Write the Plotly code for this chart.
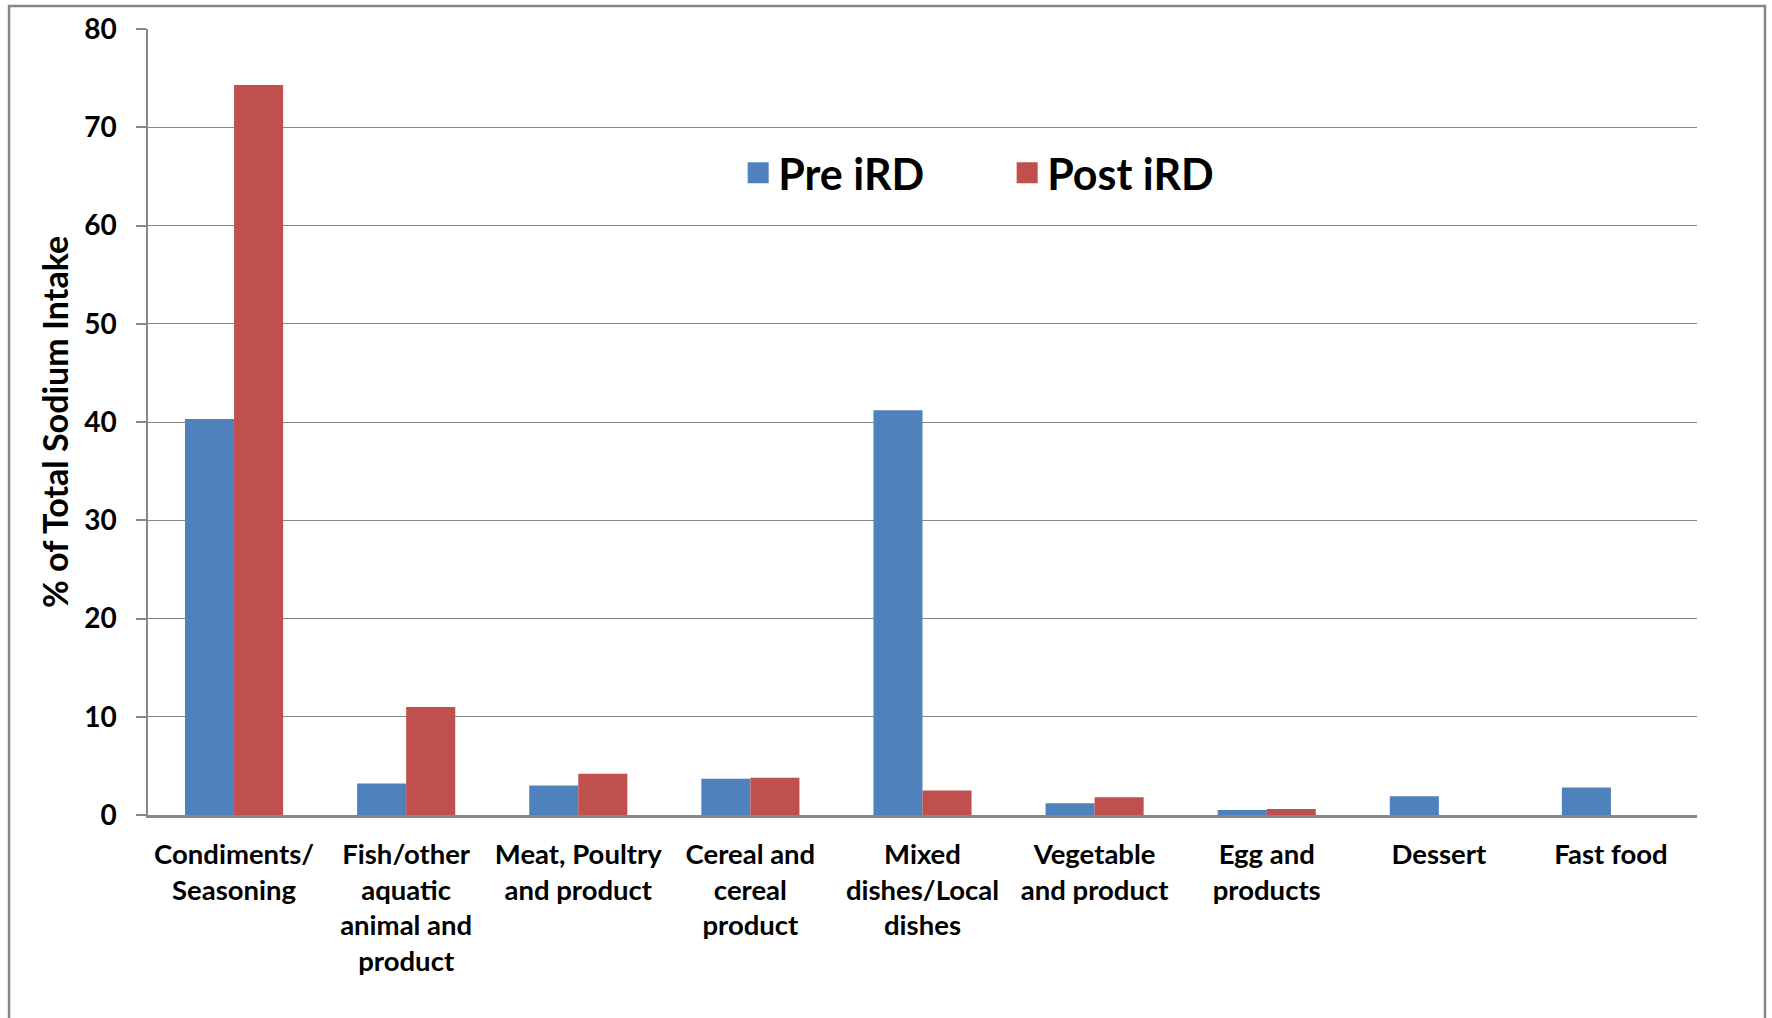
import plotly.graph_objects as go

# Food-group sources of sodium, share of total intake (%)
categories = [
    "Condiments/<br>Seasoning",
    "Fish/other<br>aquatic<br>animal and<br>product",
    "Meat, Poultry<br>and product",
    "Cereal and<br>cereal<br>product",
    "Mixed<br>dishes/Local<br>dishes",
    "Vegetable<br>and product",
    "Egg and<br>products",
    "Dessert",
    "Fast food",
]
pre_ird = [40.3, 3.2, 3.0, 3.7, 41.2, 1.2, 0.5, 1.9, 2.8]
post_ird = [74.3, 11.0, 4.2, 3.8, 2.5, 1.8, 0.6, 0.0, 0.0]

series_names = ["Pre iRD", "Post iRD"]
series_colors = ["#4F81BD", "#C0504D"]

y_ticks = [0, 10, 20, 30, 40, 50, 60, 70, 80]

FONT = "Lato"
GRID = "#878787"

fig = go.Figure()
for name, vals, col in zip(series_names, [pre_ird, post_ird], series_colors):
    fig.add_trace(go.Bar(name=name, x=categories, y=vals, legendgroup=name,
                         showlegend=False,
                         marker=dict(color=col, line=dict(width=0))))
    # larger square legend key for each series
    fig.add_trace(go.Scatter(name=name, x=[None], y=[None], mode="markers",
                             legendgroup=name, showlegend=True,
                             marker=dict(symbol="square", size=16, color=col,
                                         line=dict(color=col, width=5))))

fig.update_layout(
    width=1772, height=1018,
    margin=dict(l=148, r=75, t=29, b=202.5, pad=0),
    paper_bgcolor="white", plot_bgcolor="white",
    barmode="group", bargap=0.43, bargroupgap=0,
    font=dict(family=FONT, color="black"),
    legend=dict(
        orientation="h", x=0.381, xanchor="left", y=0.817, yanchor="middle",
        font=dict(family=FONT, size=43, color="black", weight="bold"),
        entrywidth=224, entrywidthmode="pixels", itemwidth=30,
        itemsizing="trace",
        bgcolor="rgba(0,0,0,0)", traceorder="normal",
    ),
    showlegend=True,
)

fig.update_xaxes(
    showgrid=False, showline=True, linecolor=GRID, linewidth=2.5,
    ticks="", ticklabelstandoff=13,
    tickfont=dict(family=FONT, size=27.5, color="black", weight="bold"),
    tickangle=0,
)
fig.update_yaxes(
    range=[0, 80], tickvals=y_ticks,
    showgrid=True, gridcolor=GRID, gridwidth=1,
    showline=True, linecolor=GRID, linewidth=1.5,
    ticks="outside", ticklen=10, tickcolor=GRID, tickwidth=1.5,
    ticklabelstandoff=14,
    zeroline=False,
    tickfont=dict(family=FONT, size=28, color="black", weight="bold"),
    title=dict(text="% of Total Sodium Intake", standoff=5,
               font=dict(family=FONT, size=34, color="black", weight="bold")),
)

# Outer chart frame
fig.add_shape(type="rect", xref="paper", yref="paper",
              x0=-0.0897, x1=1.0439, y0=-0.32, y1=1.0293,
              line=dict(color="#868686", width=2.5), fillcolor="rgba(0,0,0,0)",
              layer="below")

fig.write_html("out.html")
